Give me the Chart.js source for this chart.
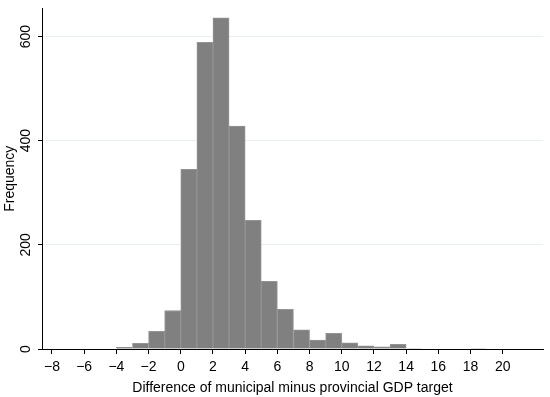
<!DOCTYPE html>
<html>
<head>
<meta charset="utf-8">
<script src="https://cdn.jsdelivr.net/npm/chart.js@4"></script>
<style>
  html, body { margin: 0; padding: 0; background: #fff; }
  #wrap { width: 550px; height: 397px; }
</style>
</head>
<body>
<div id="wrap"><canvas id="hist" width="550" height="397"></canvas></div>
<script>
// histogram bins (width 1), lower edges and counts
const binStart = [-4, -3, -2, -1, 0, 1, 2, 3, 4, 5, 6, 7, 8, 9, 10, 11, 12, 13, 14, 15, 16, 17, 18, 19];
const counts   = [ 3, 11, 34, 74, 345, 589, 636, 428, 247, 130, 76, 37, 17, 30, 12, 6, 4, 9, 1, 0, 0, 0, 1, 0];
const xTicks = [-8, -6, -4, -2, 0, 2, 4, 6, 8, 10, 12, 14, 16, 18, 20];
const yTicks = [0, 200, 400, 600];
const xTitle = "Difference of municipal minus provincial GDP target";
const yTitle = "Frequency";

const FONT = "'Liberation Sans', Arial, sans-serif";
const pts = binStart.map((b, i) => ({ x: b + 0.5, y: counts[i] }));

new Chart(document.getElementById("hist"), {
  type: "bar",
  data: { datasets: [{
    data: pts, backgroundColor: "#808080", borderColor: "#949494", borderWidth: 1,
    barPercentage: 1, categoryPercentage: 1, borderSkipped: "bottom"
  }] },
  options: {
    responsive: false, animation: false, events: [],
    layout: { padding: { top: 4, right: 7, left: 0, bottom: 0 } },
    plugins: { legend: { display: false }, tooltip: { enabled: false } },
    scales: {
      x: {
        type: "linear", min: -8.62, max: 22.5, offset: false,
        afterBuildTicks: s => { s.ticks = xTicks.map(v => ({ value: v })); },
        afterFit: s => { s.height = 48; },
        border: { color: "#000", width: 1 },
        grid: { offset: false, drawOnChartArea: false, tickLength: 5, tickColor: "#000" },
        ticks: { color: "#000", font: { family: FONT, size: 14 }, padding: 5, maxRotation: 0,
                 callback: v => String(v).replace("-", "\u2212") },
        title: { display: true, text: xTitle, color: "#000", font: { family: FONT, size: 14 }, padding: { top: 2, bottom: 0 } }
      },
      y: {
        min: 0, max: 654,
        afterBuildTicks: s => { s.ticks = yTicks.map(v => ({ value: v })); },
        afterFit: s => { s.width = 42; },
        border: { color: "#000", width: 1 },
        grid: { color: c => c.tick.value === 0 ? "rgba(0,0,0,0)" : "#e8f0f0", tickLength: 4, tickColor: "#000" },
        ticks: { color: "#000", font: { family: FONT, size: 14 }, minRotation: 90, maxRotation: 90,
                 crossAlign: "center", padding: 0 },
        title: { display: true, text: yTitle, color: "#000", font: { family: FONT, size: 14 }, padding: { top: 2, bottom: 0 } }
      }
    }
  }
});
</script>
</body>
</html>
